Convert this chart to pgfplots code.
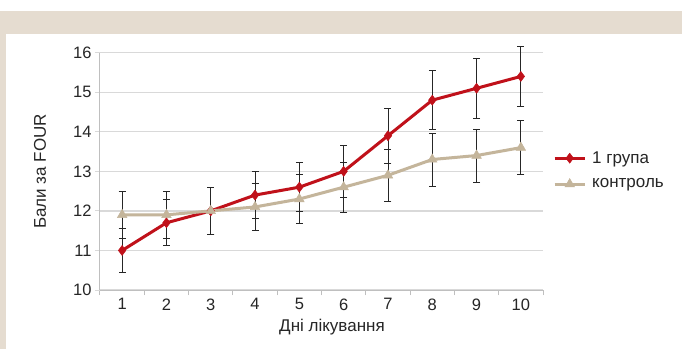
\documentclass[border=0pt]{standalone}
\usepackage{pgfplots}
\pgfplotsset{compat=1.18}
\usepackage{pgfplotstable}
\usepackage{fontspec}
\setmainfont{Liberation Sans}
\definecolor{beige}{HTML}{E5DCD0}
\definecolor{redc}{HTML}{C0111A}
\definecolor{tanc}{HTML}{C4B59B}
\definecolor{gridc}{HTML}{D9D9D9}
\definecolor{axc}{HTML}{BFBFBF}
\definecolor{txt}{HTML}{262626}
\pgfplotstableread{
x y e
1 11.0 0.55
2 11.7 0.58
3 12.0 0.60
4 12.4 0.60
5 12.6 0.62
6 13.0 0.65
7 13.9 0.70
8 14.8 0.74
9 15.1 0.75
10 15.4 0.77
}\groupone
\pgfplotstableread{
x y e
1 11.9 0.60
2 11.9 0.60
3 12.0 0.60
4 12.1 0.60
5 12.3 0.62
6 12.6 0.63
7 12.9 0.65
8 13.3 0.67
9 13.4 0.67
10 13.6 0.69
}\control
\begin{document}
\begin{tikzpicture}[x=1bp,y=1bp]
\useasboundingbox (-100,-59) rectangle (582,290);
\fill[white] (-100,-59) rectangle (582,290);
\fill[beige] (-100,-59) rectangle (582,279);
\fill[white] (-94,-59) rectangle (582,256);
\begin{axis}[
  at={(0,0)}, anchor=south west,
  scale only axis, width=443bp, height=237.3bp,
  xmin=0.5, xmax=10.5, ymin=10, ymax=16,
  clip=false,
  xtick={1,...,10}, ytick={10,...,16},
  minor xtick={0.5,1.5,...,10.5},
  axis x line*=bottom, axis y line*=left,
  axis line style={axc, line width=1bp},
  tick align=outside, major tick length=5bp, minor tick length=5bp,
  every major x tick/.append style={draw=none},
  every minor x tick/.append style={axc, line width=1bp},
  ytick style={gridc, line width=1bp},
  ymajorgrids, grid style={gridc, line width=1.2bp},
  /pgf/number format/assume math mode=true,
  tick label style={font=\fontsize{16.5bp}{19bp}\selectfont, text=txt},
  label style={font=\fontsize{17bp}{20bp}\selectfont, text=txt},
  xlabel={Дні лікування},
  ylabel={Бали за FOUR},
  xlabel style={at={(axis description cs:0.5237,-0.156)}, anchor=center},
  ylabel style={at={(axis description cs:-0.1354,0.5)}, anchor=center},
  legend style={at={(axis description cs:1.0226,0.5036)}, anchor=west,
    draw=none, fill=none, font=\fontsize{17bp}{20bp}\selectfont, text=txt,
    row sep=10bp, column sep=4bp, inner sep=0pt},
  legend cell align=left,
  error bars/error bar style={black!85, line width=0.9bp},
  error bars/error mark options={rotate=90, mark size=3.5bp, black!85, line width=0.9bp},
]
\addplot[redc, line width=3bp, mark=diamond*, mark size=5bp,
  mark options={fill=redc, draw=redc, line width=0.5bp},
  legend image code/.code={\draw[mark repeat=2,mark phase=2] plot coordinates {(0bp,0bp) (15bp,0bp) (30bp,0bp)};},
  error bars/.cd, y dir=both, y explicit]
  table[x=x, y=y, y error=e] {\groupone};
\addlegendentry{1 група}
\addplot[tanc, line width=3bp, mark=triangle*, mark size=5.5bp,
  mark options={fill=tanc, draw=tanc, line width=0.5bp},
  legend image code/.code={\draw[mark repeat=2,mark phase=2] plot coordinates {(0bp,0bp) (15bp,0bp) (30bp,0bp)};},
  error bars/.cd, y dir=both, y explicit]
  table[x=x, y=y, y error=e] {\control};
\addlegendentry{контроль}
\end{axis}
\end{tikzpicture}
\end{document}
